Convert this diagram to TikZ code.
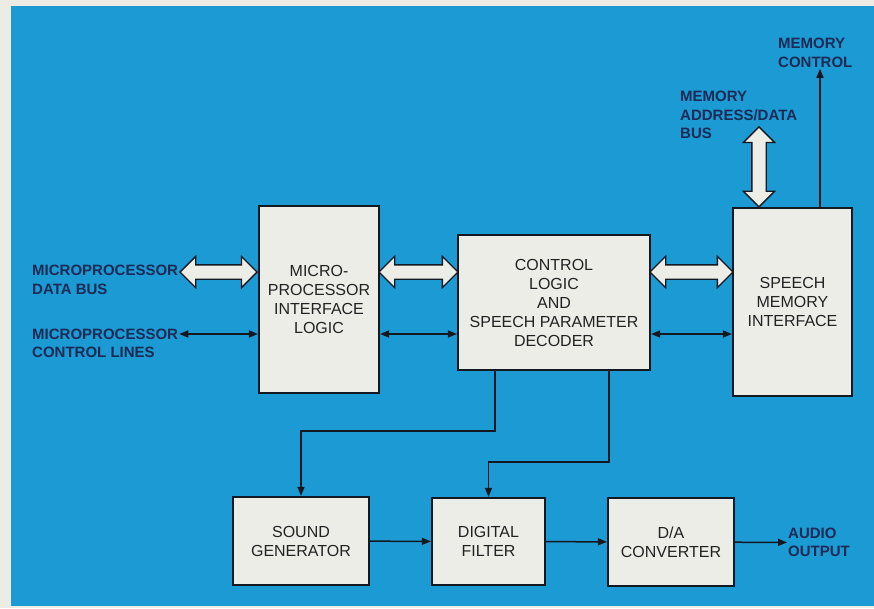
\documentclass[tikz,border=0pt]{standalone}
\usepackage{fontspec}
\setmainfont{Liberation Sans}
\usetikzlibrary{positioning,arrows.meta,shapes.arrows,calc}
\definecolor{vpaper}{HTML}{ECEBE4}
\definecolor{vbgblue}{HTML}{1C9AD3}
\definecolor{vboxfill}{HTML}{EDEDE8}
\definecolor{vboxline}{HTML}{141820}
\definecolor{vboxtext}{HTML}{222222}
\definecolor{vlabeltext}{HTML}{1A2B55}
\tikzset{vbox/.style={rectangle, draw=vboxline, fill=vboxfill, line width=2.2pt, align=center, text=vboxtext, inner sep=0pt, font=\fontsize{16}{19}\selectfont}}
\tikzset{vlabel/.style={anchor=west, align=left, inner sep=1pt, text=vlabeltext, font=\bfseries\fontsize{15}{18.5}\selectfont}}
\tikzset{vedge/.style={-{Triangle[length=9pt,width=7pt]}, draw=vboxline, line width=1.5pt}}
\tikzset{vbiedge/.style={vedge, {Triangle[length=9pt,width=7pt]}-{Triangle[length=9pt,width=7pt]}}}
\tikzset{vbus/.style={double arrow, draw=vboxline, fill=vboxfill, line width=1.3pt, inner xsep=0pt, inner ysep=6.5pt, minimum width=0pt, double arrow head extend=8.5pt}}

\begin{document}
\begin{tikzpicture}[x=1pt, y=-1pt]
  \useasboundingbox (0,0) rectangle (874,608);
  \fill[vpaper] (0,0) rectangle (874,608);
  \fill[vbgblue] (11,6) rectangle (874,606);

  \node[vbox, minimum width=120pt, minimum height=187pt] (mpil) at (319,299.5) {MICRO-\\PROCESSOR\\INTERFACE\\LOGIC};
  \node[vbox, minimum width=192pt, minimum height=135pt] (ctrl) at (554,302.5) {CONTROL\\LOGIC\\AND\\SPEECH PARAMETER\\DECODER};
  \node[vbox, minimum width=119pt, minimum height=188pt] (smi) at (792.5,302) {SPEECH\\MEMORY\\INTERFACE};
  \node[vbox, minimum width=136pt, minimum height=88pt] (sound) at (301,541) {SOUND\\GENERATOR};
  \node[vbox, minimum width=113pt, minimum height=87pt] (filter) at (488.5,541.5) {DIGITAL\\FILTER};
  \node[vbox, minimum width=126pt, minimum height=88pt] (dac) at (671,542) {D/A\\CONVERTER};

  \node[vlabel] (datalabel) at (31,280) {MICROPROCESSOR\\DATA BUS};
  \node[vlabel] (ctllabel) at (31,343.5) {MICROPROCESSOR\\CONTROL LINES};
  \node[vlabel] (memaddr) at (679,115) {MEMORY\\ADDRESS/DATA\\BUS};
  \node[vlabel] (memctl) at (777,53) {MEMORY\\CONTROL};
  \node[vlabel] (audio) at (787,542.5) {AUDIO\\OUTPUT};

  % bus arrows
  \coordinate (dataA) at ([yshift=8pt]datalabel.east);
  \node[vbus, minimum height=77pt] (busA) at ($(dataA)!.5!(mpil.west |- dataA)$) {};
  \node[vbus, minimum height=79pt] (busB) at ($(mpil.east |- dataA)!.5!(ctrl.west |- dataA)$) {};
  \node[vbus, minimum height=83pt] (busC) at ($(ctrl.east |- dataA)!.5!(smi.west |- dataA)$) {};
  \node[vbus, minimum height=80pt, rotate=90] (busD) at ([xshift=-33.5pt,yshift=40pt]smi.north) {};

  % control lines
  \coordinate (ctlA) at ([yshift=9.5pt]ctllabel.east);
  \draw[vbiedge] (ctlA) -- (mpil.west |- ctlA);
  \draw[vbiedge] (mpil.east |- ctlA) -- (ctrl.west |- ctlA);
  \draw[vbiedge] (ctrl.east |- ctlA) -- (smi.west |- ctlA);

  \coordinate (mcA) at ([xshift=27.5pt]smi.north);
  \draw[vedge] (mcA) -- (mcA |- memctl.south);

  \draw[vedge] ([xshift=-59pt]ctrl.south) |- ([yshift=65pt]sound.north) -- (sound.north);
  \draw[vedge] ([xshift=55pt]ctrl.south) |- ([yshift=35pt]filter.north) -- (filter.north);

  \draw[vedge] (sound) -- (filter);
  \draw[vedge] (filter) -- (dac);
  \draw[vedge] (dac) -- (audio);
\end{tikzpicture}
\end{document}
